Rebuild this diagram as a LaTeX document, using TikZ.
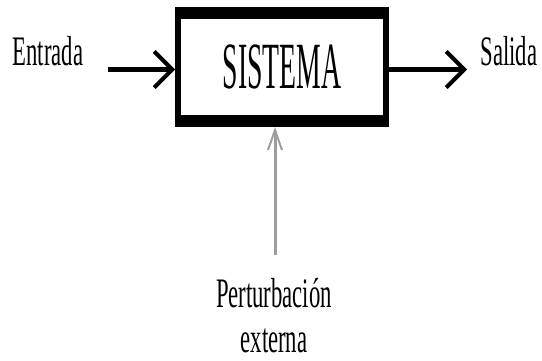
\documentclass[tikz,border=0pt]{standalone}
\usepackage{fontspec}
\setmainfont{Liberation Serif}
\usetikzlibrary{arrows.meta,calc}

\tikzset{
  txt/.style={inner sep=0pt, anchor=base, font=\fontsize{42}{42}\selectfont},
  sysbox/.style={draw, line width=6pt, inner sep=0pt,
    minimum width=208pt, minimum height=114pt},
  flow/.style={line width=4.5pt,
    -{Straight Barb[length=18pt,width=36pt,line width=4pt]}},
  disturb/.style={line width=3pt, draw=black!38,
    -{Straight Barb[length=20pt,width=14pt,line width=2pt]}}
}

\newcommand{\narrow}[2]{\scalebox{#1}[1]{#2}}

\begin{document}
\begin{tikzpicture}[x=1pt,y=1pt]
  \useasboundingbox (0,0) rectangle (542,360);

  % the system block, with heavy top and bottom edges
  \node[sysbox] (sys) at (282,293) {};
  \fill (sys.north west) rectangle ($(sys.north east)+(0,-12)$);
  \fill (sys.south west) rectangle ($(sys.south east)+(0,12)$);
  \node[anchor=base, inner sep=0pt, font=\fontsize{66}{66}\selectfont]
    (name) at (282,272) {\narrow{0.42}{SISTEMA}};

  % input and output labels
  \node[txt] (in) at (48,295) {\narrow{0.54}{Entrada}};
  \node[txt] (out) at (509,295) {\narrow{0.54}{Salida}};

  % disturbance label
  \node[txt] (pert) at (274,53) {\narrow{0.54}{Perturbación}};
  \node[txt] (ext) at (274,8) {\narrow{0.54}{externa}};

  % connectors
  \coordinate (inStart) at (108,290.5);
  \coordinate (outEnd) at (467,290.5);
  \coordinate (pertTop) at (275,105);
  \draw[flow] (inStart) -- (inStart -| sys.west);
  \draw[flow] (outEnd -| sys.east) -- (outEnd);
  \draw[disturb] (pertTop) -- (pertTop |- sys.south);
\end{tikzpicture}
\end{document}
